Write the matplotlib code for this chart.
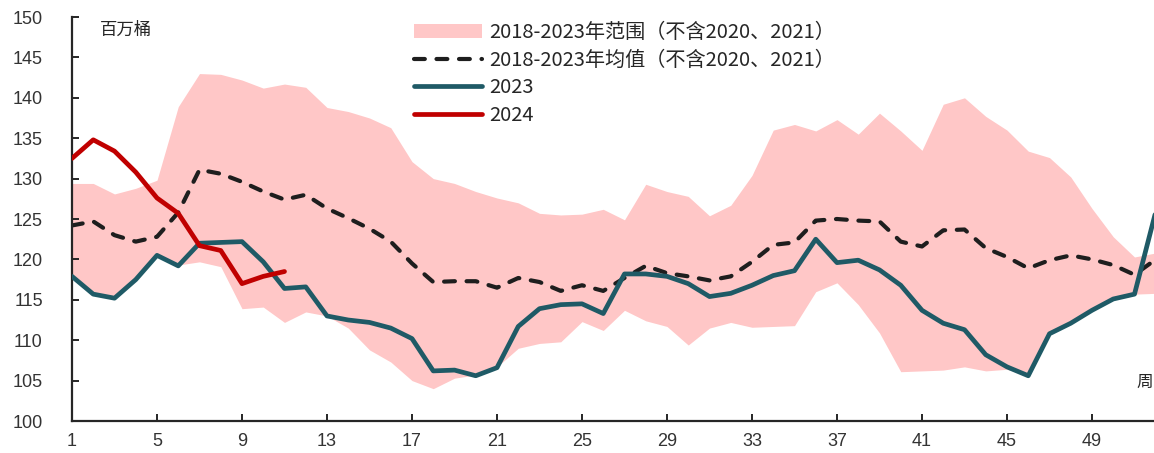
import matplotlib.pyplot as plt
import numpy as np

# weekly data (million barrels)
weeks = np.arange(1, 53)
range_upper = [129.4, 129.4, 128.1, 128.8, 129.8, 138.9, 143.0, 142.9, 142.2, 141.2,
               141.7, 141.3, 138.8, 138.3, 137.5, 136.3, 132.1, 130.0, 129.4, 128.4,
               127.6, 127.0, 125.7, 125.5, 125.6, 126.2, 124.9, 129.3, 128.4, 127.8,
               125.4, 126.7, 130.4, 136.0, 136.7, 135.9, 137.3, 135.5, 138.1, 135.9,
               133.5, 139.2, 140.0, 137.7, 136.0, 133.4, 132.6, 130.2, 126.3, 122.8,
               120.3, 120.8]
range_lower = [117.9, 115.7, 115.2, 117.5, 120.4, 119.3, 119.7, 119.1, 113.9, 114.1,
               112.2, 113.5, 113.0, 111.5, 108.8, 107.3, 105.0, 104.0, 105.3, 105.7,
               106.7, 109.0, 109.6, 109.8, 112.3, 111.2, 113.7, 112.4, 111.7, 109.4,
               111.5, 112.2, 111.6, 111.7, 111.8, 116.0, 117.1, 114.4, 110.9, 106.1,
               106.2, 106.3, 106.7, 106.2, 106.4, 105.6, 110.8, 112.1, 113.7, 115.1,
               115.7, 115.8]
mean_vals = [124.2, 124.7, 123.0, 122.2, 122.8, 125.8, 131.1, 130.6, 129.6, 128.4,
             127.4, 128.0, 126.3, 125.1, 123.8, 122.2, 119.5, 117.2, 117.3, 117.3,
             116.5, 117.7, 117.2, 116.1, 116.8, 116.1, 117.7, 119.2, 118.3, 117.9,
             117.4, 117.9, 119.7, 121.8, 122.1, 124.8, 125.0, 124.8, 124.7, 122.2,
             121.6, 123.6, 123.7, 121.4, 120.3, 118.9, 119.9, 120.5, 120.0, 119.3,
             118.1, 120.0]
y2023 = [117.9, 115.7, 115.2, 117.5, 120.5, 119.2, 122.0, 122.1, 122.2, 119.7,
         116.4, 116.6, 113.0, 112.5, 112.2, 111.5, 110.2, 106.2, 106.3, 105.6,
         106.6, 111.7, 113.9, 114.4, 114.5, 113.3, 118.2, 118.2, 117.9, 117.0,
         115.4, 115.8, 116.8, 118.0, 118.6, 122.5, 119.6, 119.9, 118.7, 116.8,
         113.7, 112.1, 111.3, 108.2, 106.7, 105.6, 110.8, 112.1, 113.7, 115.1,
         115.7, 125.9]
y2024 = [132.5, 134.8, 133.4, 130.8, 127.6, 125.7, 121.7, 121.1, 117.0, 117.9, 118.5]

labels = ['2018-2023年范围（不含2020、2021）',
          '2018-2023年均值（不含2020、2021）',
          '2023', '2024']

plt.rcParams['font.family'] = ['Noto Sans CJK SC', 'DejaVu Sans']

W, H = 1154, 453
fig = plt.figure(figsize=(W / 100, H / 100), dpi=100)
# axes placed in pixels: left spine x=72, bottom y=421, top y=17, 21.25 px per week
ax = fig.add_axes([72 / W, (H - 421) / H, 52 * 21.25 / W, 404 / H])

ax.fill_between(weeks, range_lower, range_upper, color='#ffc7c7', linewidth=0,
                label=labels[0], zorder=1)
ax.plot(weeks, mean_vals, color='#1e1e1e', lw=3.0, ls=(0, (2.6, 2.8)),
        dash_capstyle='round', label=labels[1], zorder=2)
ax.plot(weeks, y2023, color='#1f5a66', lw=3.4, solid_capstyle='round',
        label=labels[2], zorder=3)
ax.plot(weeks[:len(y2024)], y2024, color='#c00000', lw=3.4, solid_capstyle='round',
        label=labels[3], zorder=4)

ax.set_xlim(1, 53)
ax.set_ylim(100, 150)
ax.set_xticks(np.arange(1, 53, 4))
ax.set_yticks(np.arange(100, 151, 5))
for s in ['top', 'right']:
    ax.spines[s].set_visible(False)
for s in ['left', 'bottom']:
    ax.spines[s].set_linewidth(1.6)
    ax.spines[s].set_color('#262626')
ax.tick_params(direction='in', length=5, width=1.4, color='#262626',
               labelsize=13, labelcolor='#333333')
ax.tick_params(axis='y', pad=21)
ax.tick_params(axis='x', pad=9)
for lab in ax.get_xticklabels() + ax.get_yticklabels():
    lab.set_family('Liberation Sans')

leg = ax.legend(loc='upper left', bbox_to_anchor=(414 / W, 1 - 22 / H),
                bbox_transform=fig.transFigure, frameon=False, fontsize=14.5,
                handlelength=3.4, handletextpad=0.35, labelspacing=0.33,
                borderpad=0, borderaxespad=0)
for t in leg.get_texts():
    t.set_color('#262626')

fig.text(100 / W, 1 - 30 / H, '百万桶', fontsize=12.5, va='center', ha='left',
         color='#262626')
fig.text(1136 / W, 1 - 382 / H, '周', fontsize=12, va='center', ha='left',
         color='#262626')

fig.savefig('out.png', dpi=100)
